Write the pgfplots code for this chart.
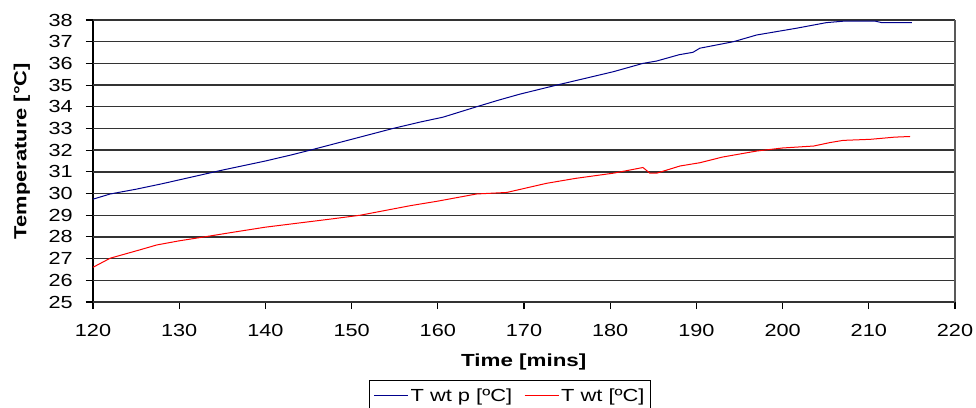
\documentclass[border=0pt]{standalone}
\usepackage{graphicx}
\usepackage{pgfplots}
\pgfplotsset{compat=1.18}
\usepackage{fontspec}
\setmainfont{Liberation Sans}
\begin{document}
\begin{tikzpicture}
\begin{axis}[
  at={(0,0)}, anchor=south west,
  scale only axis, width=862pt, height=282pt,
  xmin=120, xmax=220, ymin=25, ymax=38,
  xtick={120,130,...,220}, ytick={25,26,...,38},
  axis x line*=bottom, axis y line*=left,
  axis line style={black, line width=1.3pt, -},
  tick align=outside, major tick length=7pt,
  tick style={black, line width=1.1pt},
  ymajorgrids, grid style={black!80, line width=1.4pt},
  /pgf/number format/assume math mode=true,
  /pgf/number format/1000 sep={},
  xticklabel style={font=\fontsize{17.5}{18}\selectfont, xscale=1.24, yshift=-12pt},
  yticklabels={},
  extra y ticks={25,26,...,38},
  extra y tick labels={},
  xlabel={\scalebox{1.28}[1]{\bfseries Time [mins]}},
  ylabel={\scalebox{1.25}[1]{\bfseries Temperature [°C]}},
  xlabel style={font=\fontsize{17.5}{18}\selectfont, at={(rel axis cs:0.4997,-0.2117)}, anchor=center},
  ylabel style={font=\fontsize{17.5}{18}\selectfont, at={(rel axis cs:-0.0824,0.535)}, anchor=center},
  legend style={at={(rel axis cs:0.4838,-0.2766)}, anchor=north, draw=black, line width=1pt,
    font=\fontsize{17.5}{18}\selectfont, legend columns=2, inner xsep=4pt, inner ysep=6pt,
    /tikz/every even column/.append style={column sep=10pt}},
  legend cell align=left,
  legend image code/.code={\draw[#1, line width=1pt] (0pt,0pt) -- (34pt,0pt);},
  clip=false,
]
\addplot[color={rgb,255:red,0;green,0;blue,140}, line width=1pt] coordinates {
(120,29.74) (122,29.98) (125,30.2) (128,30.45) (130,30.63) (133,30.9) (135,31.08)
(140,31.5) (143,31.78) (145,31.98) (147.5,32.24) (150,32.5) (154.8,33.0) (158,33.3)
(160.6,33.52) (164.5,34.0) (167,34.3) (169.5,34.58) (173.8,35.0) (177,35.3)
(180.4,35.62) (183.8,36.0) (185.4,36.11) (188,36.4) (189.6,36.51) (190.4,36.7)
(194.3,37.0) (197,37.31) (201.6,37.62) (205.1,37.88) (207.2,37.95) (210.7,37.95)
(211.5,37.88) (215,37.88)
};
\addlegendentry{\scalebox{1.25}[1]{T wt p [ºC]}}
\addplot[color=red, line width=1pt] coordinates {
(120,26.6) (122,27.02) (125.4,27.4) (127.4,27.63) (130,27.82) (133.2,28.02) (136,28.2)
(140,28.45) (147.5,28.82) (151,29.0) (156.8,29.44) (160,29.65) (164.5,29.98) (168,30.05)
(172.6,30.47) (176,30.7) (180.4,30.94) (183.8,31.2) (184.6,30.94) (185.4,30.94)
(188.1,31.27) (190.4,31.42) (193,31.68) (197,31.96) (200,32.1) (203.6,32.19)
(205.5,32.35) (207,32.45) (210.2,32.5) (213,32.6) (214.8,32.63)
};
\addlegendentry{\scalebox{1.25}[1]{T wt [ºC]}}
\draw[black!65, line width=2pt] (rel axis cs:1,0) -- (rel axis cs:1,1);
\pgfplotsinvokeforeach{25,26,...,38}{
  \node[anchor=east, inner sep=0pt, font=\fontsize{17.5}{18}\selectfont]
    at (rel axis cs:-0.0233,{(#1-25)/13}) {\scalebox{1.24}[1]{#1}};
}
\end{axis}
\pgfresetboundingbox
\path[use as bounding box] (-93pt,-105pt) rectangle (883pt,302pt);
\end{tikzpicture}
\end{document}
